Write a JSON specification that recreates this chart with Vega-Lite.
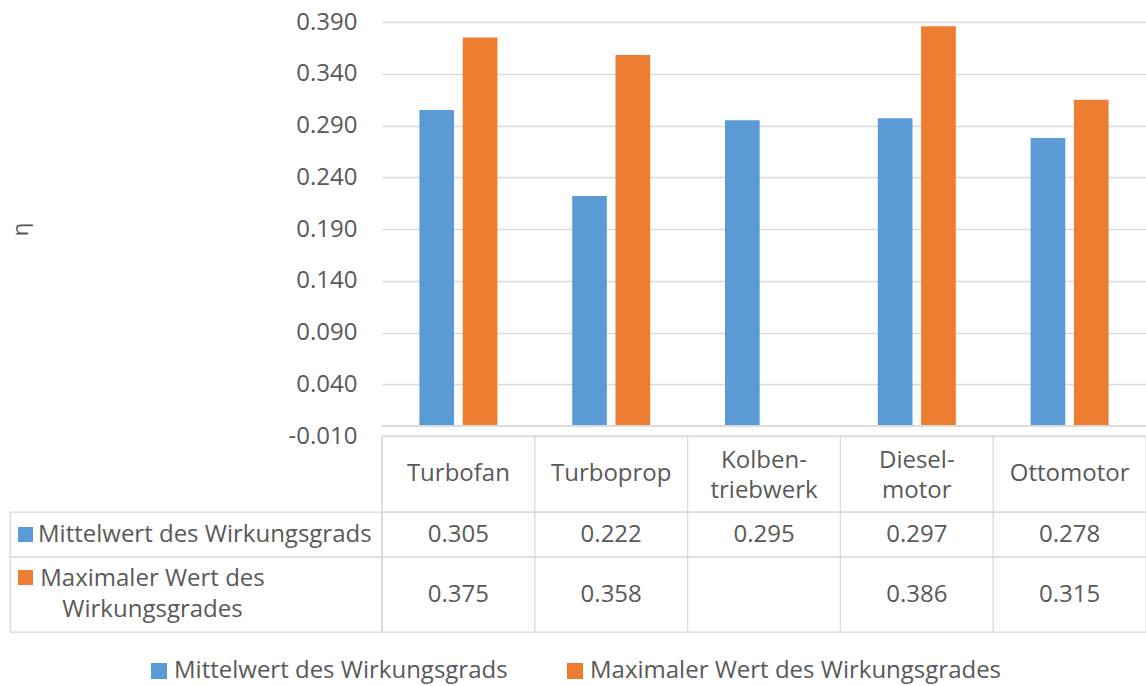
{
  "$schema": "https://vega.github.io/schema/vega-lite/v6.json",
  "padding": {"left": 9, "top": 0, "right": 0, "bottom": 2},
  "background": "white",
  "config": {
    "view": {"stroke": null},
    "font": "Open Sans",
    "text": {"font": "Open Sans", "fontSize": 24, "color": "#595959"}
  },
  "datasets": {
    "vals": [
      {"cat": "Turbofan", "series": "Mittelwert des Wirkungsgrads", "value": 0.305},
      {"cat": "Turbofan", "series": "Maximaler Wert des Wirkungsgrades", "value": 0.375},
      {"cat": "Turboprop", "series": "Mittelwert des Wirkungsgrads", "value": 0.222},
      {"cat": "Turboprop", "series": "Maximaler Wert des Wirkungsgrades", "value": 0.358},
      {"cat": "Kolben-\ntriebwerk", "series": "Mittelwert des Wirkungsgrads", "value": 0.295},
      {"cat": "Diesel-\nmotor", "series": "Mittelwert des Wirkungsgrads", "value": 0.297},
      {"cat": "Diesel-\nmotor", "series": "Maximaler Wert des Wirkungsgrades", "value": 0.386},
      {"cat": "Ottomotor", "series": "Mittelwert des Wirkungsgrads", "value": 0.278},
      {"cat": "Ottomotor", "series": "Maximaler Wert des Wirkungsgrades", "value": 0.315}
    ],
    "cats": [
      {"cat": "Turbofan"},
      {"cat": "Turboprop"},
      {"cat": "Kolben-\ntriebwerk"},
      {"cat": "Diesel-\nmotor"},
      {"cat": "Ottomotor"}
    ],
    "rows": [
      {"series": "Mittelwert des Wirkungsgrads", "label": "Mittelwert des Wirkungsgrads"},
      {"series": "Maximaler Wert des Wirkungsgrades", "label": "Maximaler Wert des\nWirkungsgrades"}
    ]
  },
  "spacing": 0,
  "bounds": "flush",
  "columns": 2,
  "resolve": {"scale": {"color": "shared"}, "legend": {"color": "shared"}},
  "concat": [
    {
      "width": 372,
      "height": 436,
      "data": {"values": [{}]},
      "mark": {"type": "text", "text": ""},
      "encoding": {}
    },
    {
      "width": 764,
      "height": 436,
      "data": {"name": "vals"},
      "layer": [
        {
          "mark": {"type": "bar"},
          "encoding": {
            "x": {"field": "cat", "type": "nominal", "axis": null,
              "scale": {"domain": ["Turbofan", "Turboprop", "Kolben-\ntriebwerk", "Diesel-\nmotor", "Ottomotor"], "paddingInner": 0.4895, "paddingOuter": 0.2447}},
            "xOffset": {"field": "series", "type": "nominal",
              "scale": {"domain": ["Mittelwert des Wirkungsgrads", "Maximaler Wert des Wirkungsgrades"], "paddingInner": 0.2, "paddingOuter": 0}},
            "y": {"field": "value", "type": "quantitative",
              "scale": {"domain": [-0.01, 0.41126], "nice": false, "zero": false},
              "axis": {
                "values": [-0.01, 0.04, 0.09, 0.14, 0.19, 0.24, 0.29, 0.34, 0.39],
                "labelExpr": "replace(format(datum.value, '.3f'), '\u2212', '-')",
                "title": "η",
                "grid": true, "gridColor": "#d9d9d9", "gridWidth": 1.3,
                "domain": false, "ticks": false,
                "labelFontSize": 24, "labelColor": "#595959", "labelFont": "Open Sans", "labelPadding": 25,
                "titleFontSize": 22, "titleFont": "Open Sans", "titleColor": "#595959", "titleFontWeight": "normal",
                "titleX": -362, "titleY": 229, "titleAngle": 270, "titleBaseline": "middle"
              }},
            "y2": {"datum": 0},
            "color": {"field": "series", "type": "nominal",
              "scale": {"domain": ["Mittelwert des Wirkungsgrads", "Maximaler Wert des Wirkungsgrades"], "range": ["#5B9BD5", "#ED7D31"]},
              "legend": {"orient": "none", "legendX": 137, "legendY": 659, "direction": "horizontal", "title": null,
                "symbolType": "square", "symbolSize": 256, "symbolStrokeWidth": 0, "labelFontSize": 24, "labelColor": "#595959",
                "labelFont": "Open Sans", "columnPadding": 55, "labelOffset": 3, "labelLimit": 0}}
          }
        },
        {
          "mark": {"type": "rule", "color": "#d9d9d9", "strokeWidth": 1.3},
          "encoding": {"y": {"datum": 0, "type": "quantitative"}}
        }
      ]
    },
    {
      "width": 372,
      "height": 76,
      "data": {"values": [{}]},
      "mark": {"type": "text", "text": ""},
      "encoding": {}
    },
    {
      "width": 764,
      "height": 76,
      "data": {"name": "cats"},
      "view": {"stroke": "#d9d9d9", "strokeWidth": 1.3},
      "layer": [
        {
          "mark": {"type": "rule", "color": "#d9d9d9", "strokeWidth": 1.3},
          "encoding": {"x": {"field": "cat", "type": "nominal", "bandPosition": 0, "axis": null,
            "scale": {"domain": ["Turbofan", "Turboprop", "Kolben-\ntriebwerk", "Diesel-\nmotor", "Ottomotor"], "padding": 0}}}
        },
        {
          "transform": [{"filter": "indexof(datum.cat, '-') < 0"}],
          "mark": {"type": "text", "fontSize": 24, "color": "#595959", "baseline": "middle"},
          "encoding": {
            "x": {"field": "cat", "type": "nominal", "axis": null,
              "scale": {"domain": ["Turbofan", "Turboprop", "Kolben-\ntriebwerk", "Diesel-\nmotor", "Ottomotor"], "padding": 0}},
            "text": {"field": "cat"}
          }
        },
        {
          "transform": [{"filter": "indexof(datum.cat, '-') >= 0"}],
          "mark": {"type": "text", "fontSize": 24, "color": "#595959", "lineBreak": "\n", "lineHeight": 30, "baseline": "middle", "dy": -13},
          "encoding": {
            "x": {"field": "cat", "type": "nominal", "axis": null,
              "scale": {"domain": ["Turbofan", "Turboprop", "Kolben-\ntriebwerk", "Diesel-\nmotor", "Ottomotor"], "padding": 0}},
            "text": {"field": "cat"}
          }
        }
      ]
    },
    {
      "width": 372,
      "height": 45,
      "data": {"name": "rows"},
      "transform": [{"filter": "datum.series === 'Mittelwert des Wirkungsgrads'"}],
      "view": {"stroke": "#d9d9d9", "strokeWidth": 1.3},
      "layer": [
        {
          "mark": {"type": "point", "shape": "square", "filled": true, "size": 225, "opacity": 1},
          "encoding": {
            "x": {"field": "series", "type": "nominal", "bandPosition": 0, "axis": null, "scale": {"type": "band", "padding": 0}},
            "xOffset": {"value": 15.5},
            "color": {"field": "series", "type": "nominal",
              "scale": {"domain": ["Mittelwert des Wirkungsgrads", "Maximaler Wert des Wirkungsgrades"], "range": ["#5B9BD5", "#ED7D31"]},
              "legend": {"orient": "none", "legendX": 137, "legendY": 659, "direction": "horizontal", "title": null,
                "symbolType": "square", "symbolSize": 256, "symbolStrokeWidth": 0, "labelFontSize": 24, "labelColor": "#595959",
                "labelFont": "Open Sans", "columnPadding": 55, "labelOffset": 3, "labelLimit": 0}}
          }
        },
        {
          "mark": {"type": "text", "fontSize": 24, "color": "#595959", "align": "left", "baseline": "middle"},
          "encoding": {
            "x": {"field": "series", "type": "nominal", "bandPosition": 0, "axis": null, "scale": {"type": "band", "padding": 0}},
            "xOffset": {"value": 28},
            "text": {"field": "label"}
          }
        }
      ]
    },
    {
      "width": 764,
      "height": 45,
      "view": {"stroke": "#d9d9d9", "strokeWidth": 1.3},
      "layer": [
        {
          "data": {"name": "cats"},
          "mark": {"type": "rule", "color": "#d9d9d9", "strokeWidth": 1.3},
          "encoding": {"x": {"field": "cat", "type": "nominal", "bandPosition": 0, "axis": null,
            "scale": {"domain": ["Turbofan", "Turboprop", "Kolben-\ntriebwerk", "Diesel-\nmotor", "Ottomotor"], "padding": 0}}}
        },
        {
          "data": {"name": "vals"},
          "transform": [{"filter": "datum.series === 'Mittelwert des Wirkungsgrads'"}],
          "mark": {"type": "text", "fontSize": 24, "color": "#595959", "baseline": "middle"},
          "encoding": {
            "x": {"field": "cat", "type": "nominal", "axis": null,
              "scale": {"domain": ["Turbofan", "Turboprop", "Kolben-\ntriebwerk", "Diesel-\nmotor", "Ottomotor"], "padding": 0}},
            "text": {"field": "value", "type": "quantitative", "format": ".3f"}
          }
        }
      ]
    },
    {
      "width": 372,
      "height": 75,
      "data": {"name": "rows"},
      "transform": [{"filter": "datum.series === 'Maximaler Wert des Wirkungsgrades'"}],
      "view": {"stroke": "#d9d9d9", "strokeWidth": 1.3},
      "layer": [
        {
          "mark": {"type": "point", "shape": "square", "filled": true, "size": 225, "opacity": 1},
          "encoding": {
            "x": {"field": "series", "type": "nominal", "bandPosition": 0, "axis": null, "scale": {"type": "band", "padding": 0}},
            "xOffset": {"value": 15.5},
            "yOffset": {"value": -17},
            "color": {"field": "series", "type": "nominal",
              "scale": {"domain": ["Mittelwert des Wirkungsgrads", "Maximaler Wert des Wirkungsgrades"], "range": ["#5B9BD5", "#ED7D31"]},
              "legend": {"orient": "none", "legendX": 137, "legendY": 659, "direction": "horizontal", "title": null,
                "symbolType": "square", "symbolSize": 256, "symbolStrokeWidth": 0, "labelFontSize": 24, "labelColor": "#595959",
                "labelFont": "Open Sans", "columnPadding": 55, "labelOffset": 3, "labelLimit": 0}}
          }
        },
        {
          "mark": {"type": "text", "fontSize": 24, "color": "#595959", "align": "center", "baseline": "middle", "lineBreak": "\n", "lineHeight": 31, "dy": -16},
          "encoding": {
            "x": {"field": "series", "type": "nominal", "bandPosition": 0, "axis": null, "scale": {"type": "band", "padding": 0}},
            "xOffset": {"value": 142.5},
            "text": {"field": "label"}
          }
        }
      ]
    },
    {
      "width": 764,
      "height": 75,
      "view": {"stroke": "#d9d9d9", "strokeWidth": 1.3},
      "layer": [
        {
          "data": {"name": "cats"},
          "mark": {"type": "rule", "color": "#d9d9d9", "strokeWidth": 1.3},
          "encoding": {"x": {"field": "cat", "type": "nominal", "bandPosition": 0, "axis": null,
            "scale": {"domain": ["Turbofan", "Turboprop", "Kolben-\ntriebwerk", "Diesel-\nmotor", "Ottomotor"], "padding": 0}}}
        },
        {
          "data": {"name": "vals"},
          "transform": [{"filter": "datum.series === 'Maximaler Wert des Wirkungsgrades'"}],
          "mark": {"type": "text", "fontSize": 24, "color": "#595959", "baseline": "middle"},
          "encoding": {
            "x": {"field": "cat", "type": "nominal", "axis": null,
              "scale": {"domain": ["Turbofan", "Turboprop", "Kolben-\ntriebwerk", "Diesel-\nmotor", "Ottomotor"], "padding": 0}},
            "text": {"field": "value", "type": "quantitative", "format": ".3f"}
          }
        }
      ]
    }
  ]
}
